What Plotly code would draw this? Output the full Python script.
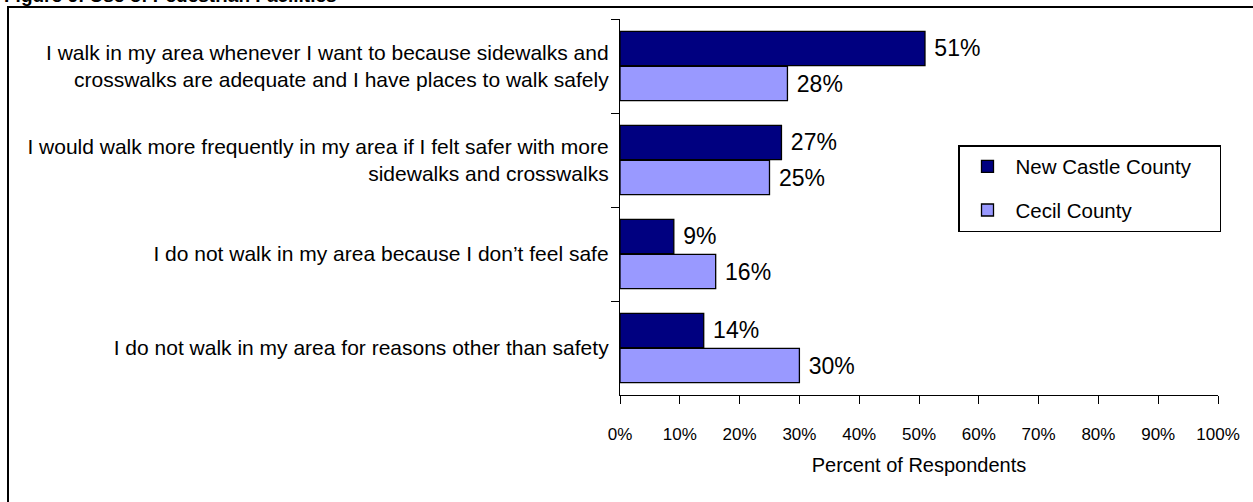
import plotly.graph_objects as go

categories = [
    "I walk in my area whenever I want to because sidewalks and<br>crosswalks are adequate and I have places to walk safely",
    "I would walk more frequently in my area if I felt safer with more<br>sidewalks and crosswalks",
    "I do not walk in my area because I don\u2019t feel safe",
    "I do not walk in my area for reasons other than safety",
]
new_castle = [51, 27, 9, 14]
cecil = [28, 25, 16, 30]
series_names = ["New Castle County", "Cecil County"]
x_ticks = list(range(0, 101, 10))
x_tick_labels = [f"{v}%" for v in x_ticks]

W, H = 1253, 502
ML, MR, MT, MB = 620, 35, 19, 107
PW, PH = W - ML - MR, H - MT - MB

FONT = "Liberation Sans, Arial, sans-serif"
LEGEND_PAD = "\u00a0" * 4  # widens the legend box to match the original

fig = go.Figure()
for name, vals, color in [(series_names[0], new_castle, "#000080"),
                          (series_names[1], cecil, "#9999FF")]:
    fig.add_trace(go.Bar(
        y=categories, x=vals, name=name + LEGEND_PAD, orientation="h",
        legendgroup=name,
        marker=dict(color=color, line=dict(color="black", width=1.3)),
        text=[f"\u00a0{v}%" for v in vals], texttemplate="%{text}", textposition="outside",
        textfont=dict(size=23, color="black", family=FONT),
        cliponaxis=False, hoverinfo="skip",
    ))

def px_x(p):
    return (p - ML) / PW

def px_y(p):
    return 1 - (p - MT) / PH

fig.update_layout(
    width=W, height=H,
    margin=dict(l=ML, r=MR, t=MT, b=MB),
    paper_bgcolor="white", plot_bgcolor="white",
    barmode="group", bargap=0.255, bargroupgap=0.02,
    font=dict(family=FONT, size=16, color="black"),
    showlegend=True,
    legend=dict(
        x=px_x(958), y=px_y(145), xanchor="left", yanchor="top",
        bordercolor="black", borderwidth=1.5, bgcolor="white",
        font=dict(size=20.5, family=FONT), traceorder="grouped",
        itemwidth=46, tracegroupgap=14,
    ),
    xaxis=dict(
        range=[0, 100], tickvals=x_ticks, ticktext=x_tick_labels,
        showgrid=False, zeroline=False, showline=True, linecolor="black", linewidth=1.3,
        ticks="outside", ticklen=8, tickcolor="black", tickwidth=1.3,
        tickfont=dict(size=17, family=FONT), ticklabelstandoff=15,
        title=dict(text="Percent of Respondents", font=dict(size=20, family=FONT), standoff=15),
    ),
    yaxis=dict(
        autorange="reversed", showgrid=False, showline=True, linecolor="black", linewidth=1.3,
        ticks="outside", ticklen=8, tickcolor="black", tickwidth=1.3, tickson="boundaries",
        tickfont=dict(size=21, family=FONT), ticklabelstandoff=6,
    ),
)

# outer frame (top and left edges visible)
fig.add_shape(type="rect", xref="paper", yref="paper",
              x0=px_x(8), x1=px_x(W + 20), y0=px_y(H + 20), y1=px_y(7),
              line=dict(color="black", width=2), layer="below")

fig.add_annotation(text="<b>Figure 6: Use of Pedestrian Facilities</b>",
                   xref="paper", yref="paper", x=px_x(2), y=px_y(8),
                   xanchor="left", yanchor="bottom", showarrow=False,
                   font=dict(size=19, family=FONT, color="black"))

fig.write_html("out.html", config={"displayModeBar": False},
               post_script="document.body.style.margin='0';document.body.style.overflow='hidden';")
